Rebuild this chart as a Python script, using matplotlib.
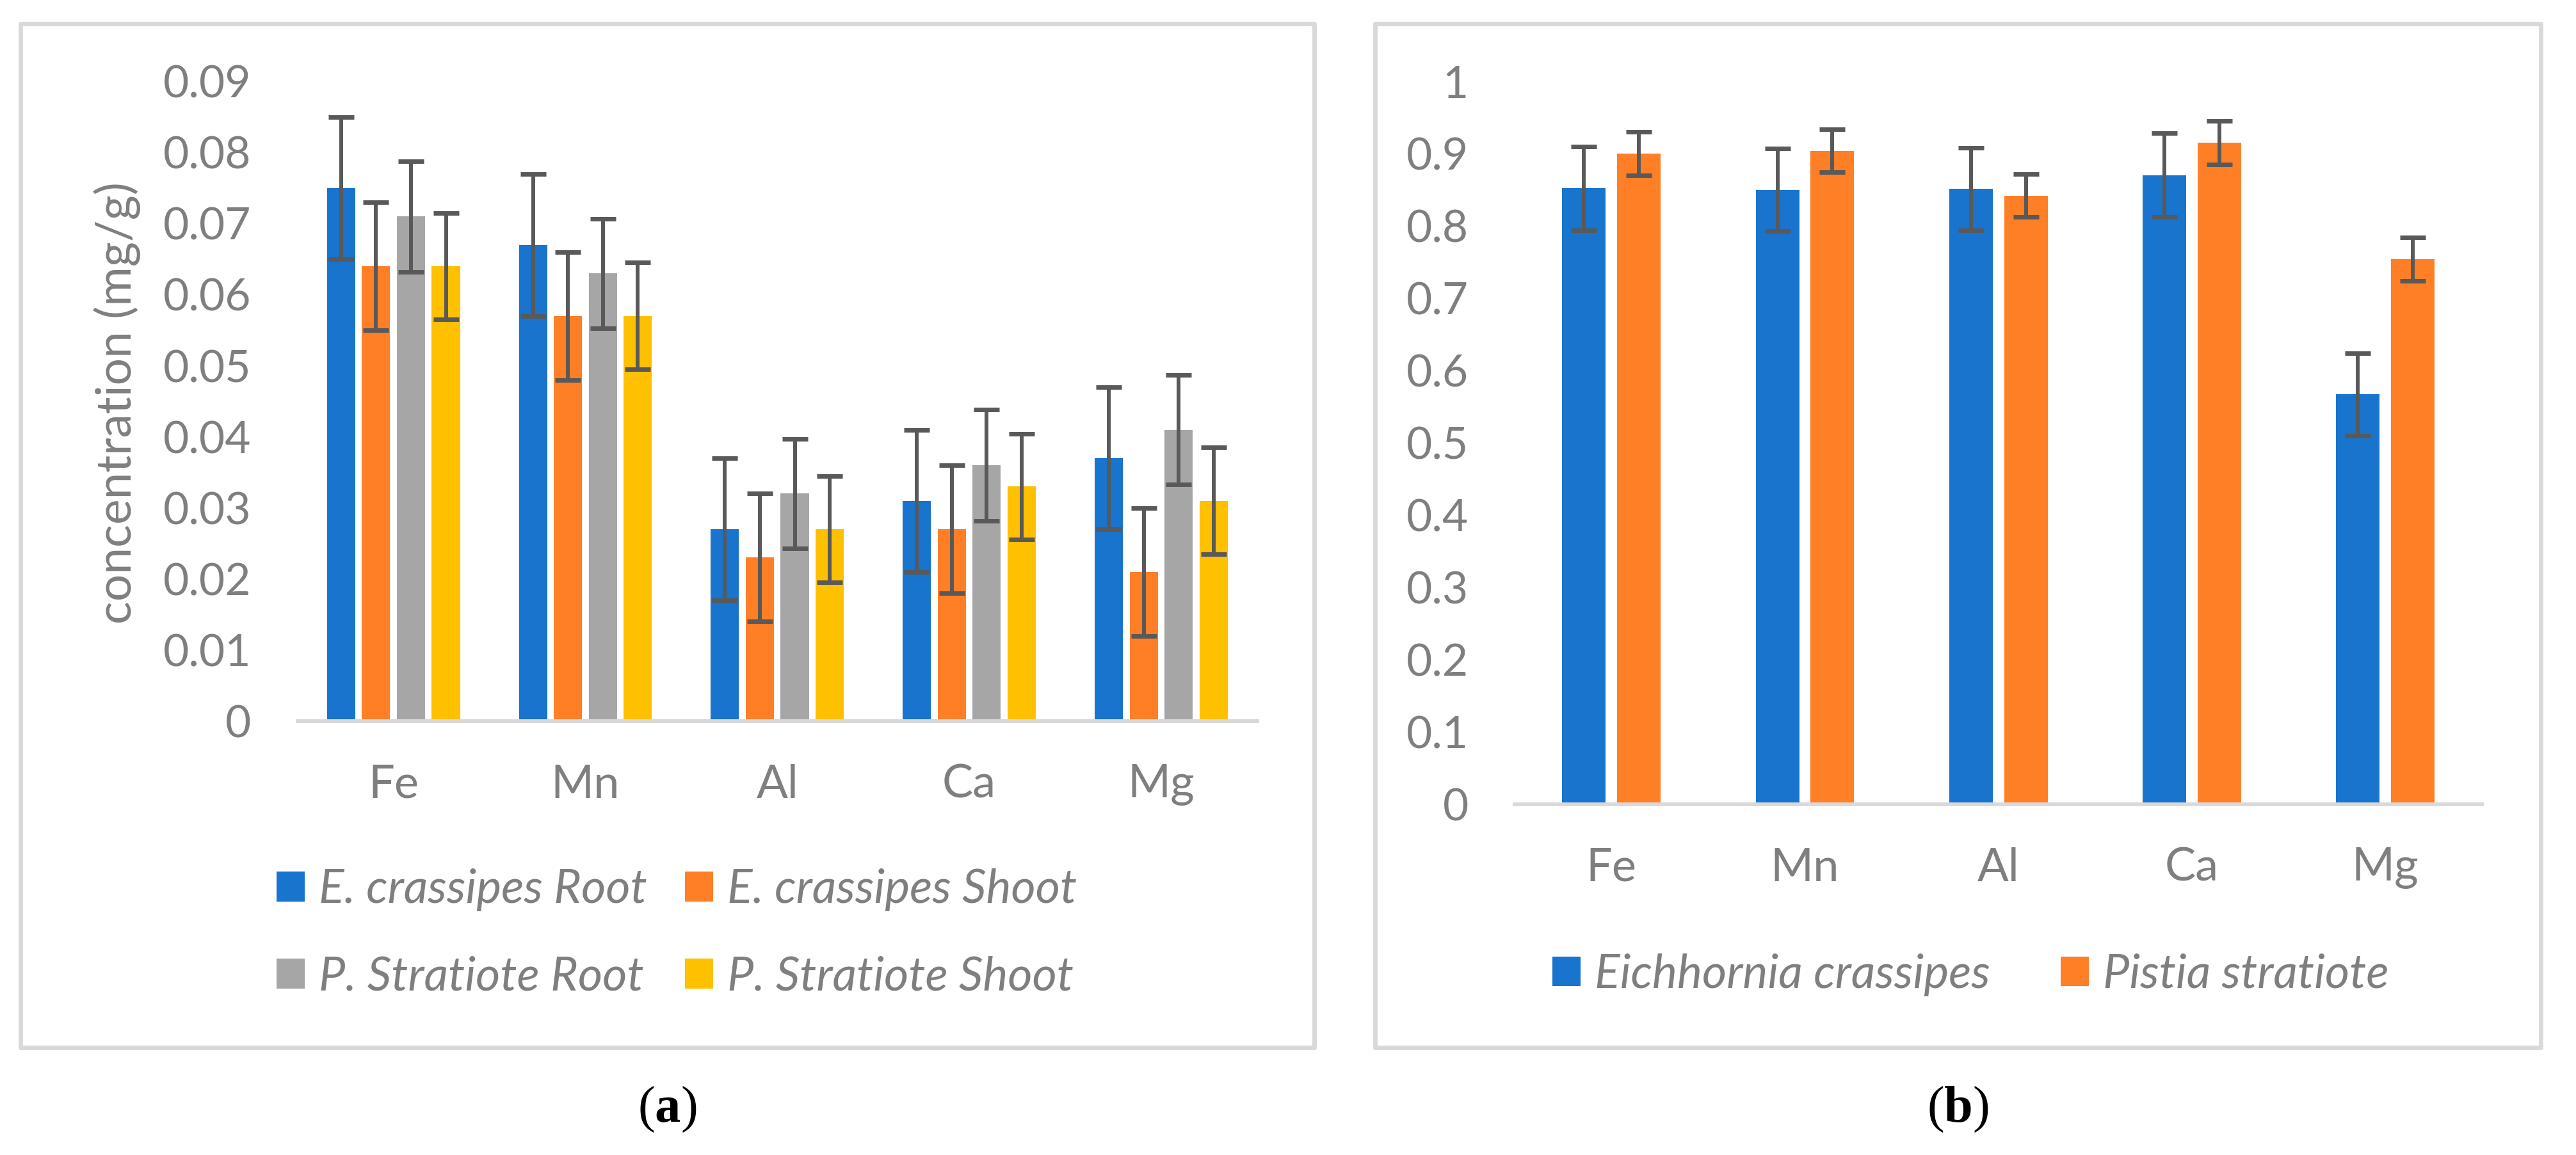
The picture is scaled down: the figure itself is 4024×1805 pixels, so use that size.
import numpy as np
import matplotlib
matplotlib.use("Agg")
from matplotlib import pyplot as plt
from matplotlib.patches import Rectangle

plt.rcParams['font.family'] = ['Lato', 'DejaVu Sans']
plt.rcParams['mathtext.fontset'] = 'custom'
plt.rcParams['mathtext.rm'] = 'Liberation Serif'
plt.rcParams['mathtext.bf'] = 'Liberation Serif:bold'

# data
elements = ['Fe', 'Mn', 'Al', 'Ca', 'Mg']

# panel (a): concentration (mg/g) per plant part
a_labels = ['E. crassipes Root', 'E. crassipes Shoot', 'P. Stratiote Root', 'P. Stratiote Shoot']
ec_root = [0.075, 0.067, 0.027, 0.031, 0.037]
ec_shoot = [0.064, 0.057, 0.023, 0.027, 0.021]
ps_root = [0.071, 0.063, 0.032, 0.036, 0.041]
ps_shoot = [0.064, 0.057, 0.027, 0.033, 0.031]
ec_root_err = [0.010, 0.010, 0.010, 0.010, 0.010]
ec_shoot_err = [0.009, 0.009, 0.009, 0.009, 0.009]
ps_root_err = [0.0078, 0.0077, 0.0077, 0.0078, 0.0077]
ps_shoot_err = [0.0075, 0.0075, 0.0075, 0.0074, 0.0075]

# panel (b)
b_labels = ['Eichhornia crassipes', 'Pistia stratiote']
eich = [0.852, 0.850, 0.851, 0.870, 0.567]
pistia = [0.900, 0.904, 0.842, 0.915, 0.754]
eich_err = [0.058, 0.057, 0.057, 0.058, 0.057]
pistia_err = [0.030, 0.030, 0.030, 0.030, 0.030]

a_ticks = [0, 0.01, 0.02, 0.03, 0.04, 0.05, 0.06, 0.07, 0.08, 0.09]
b_ticks = [0, 0.1, 0.2, 0.3, 0.4, 0.5, 0.6, 0.7, 0.8, 0.9, 1]

BLUE = '#1874CD'
ORANGE = '#FF7F27'
GRAY = '#A6A6A6'
YELLOW = '#FFC000'
TXT = '#7F7F7F'
LINE = '#D9D9D9'
ERR = '#595959'
FS_TICK = 50
FS_CAT = 52
FS_LEG = 53
FS_LAB = 54

fig = plt.figure(figsize=(40.24, 18.05), dpi=100)

# panel frames
for x0, x1 in [(0.00795, 0.5102), (0.5338, 0.9863)]:
    fig.patches.append(Rectangle((x0, 0.0928), x1 - x0, 0.9795 - 0.0928,
                                 transform=fig.transFigure, fill=False,
                                 edgecolor=LINE, linewidth=5, joinstyle='round'))


def style_axes(ax, ticks, top):
    ax.set_xlim(-0.5, 4.5)
    ax.set_ylim(0, top)
    ax.set_yticks(ticks)
    ax.set_yticklabels([f'{t:g}' for t in ticks])
    ax.set_xticks(range(len(elements)))
    ax.set_xticklabels(elements)
    for s in ['top', 'right', 'left']:
        ax.spines[s].set_visible(False)
    ax.spines['bottom'].set_color(LINE)
    ax.spines['bottom'].set_linewidth(4.3)
    ax.tick_params(axis='both', length=0, labelcolor=TXT)
    ax.tick_params(axis='y', pad=52, labelsize=FS_TICK)
    ax.tick_params(axis='x', pad=48, labelsize=FS_CAT)
    ax.set_facecolor('none')


x = np.arange(len(elements))

# (a)
ax1 = fig.add_axes([0.1155, 0.3756, 0.3725, 0.554])
series_a = [(ec_root, ec_root_err, BLUE), (ec_shoot, ec_shoot_err, ORANGE),
            (ps_root, ps_root_err, GRAY), (ps_shoot, ps_shoot_err, YELLOW)]
step = 0.182
bars_a = []
for i, (vals, err, col) in enumerate(series_a):
    pos = x + (i - 1.5) * step
    bars_a.append(ax1.bar(pos, vals, width=0.147, color=col, label=a_labels[i], zorder=2))
    ax1.errorbar(pos, vals, yerr=err, fmt='none', ecolor=ERR, elinewidth=4.3,
                 capsize=14.4, capthick=5, zorder=3)
style_axes(ax1, a_ticks, 0.09)
# row-wise order like the original legend
order = [0, 2, 1, 3]
ax1.legend([bars_a[k] for k in order], [a_labels[k] for k in order],
           loc='center', bbox_to_anchor=(0.2627, 0.1917), bbox_transform=fig.transFigure,
           ncol=2, frameon=False, prop={'style': 'italic', 'size': FS_LEG},
           labelcolor=TXT, handlelength=0.6, handleheight=0.6,
           handletextpad=0.3, columnspacing=0.8, labelspacing=0.94)
fig.text(183 / 4024, 0.651, 'concentration (mg/g)', rotation=90, ha='center', va='center',
         fontsize=FS_LAB, color=TXT)

# (b)
ax2 = fig.add_axes([0.588, 0.3036, 0.3755, 0.626])
series_b = [(eich, eich_err, BLUE), (pistia, pistia_err, ORANGE)]
for i, (vals, err, col) in enumerate(series_b):
    pos = x + (i - 0.5) * 0.284
    ax2.bar(pos, vals, width=0.225, color=col, label=b_labels[i], zorder=2)
    ax2.errorbar(pos, vals, yerr=err, fmt='none', ecolor=ERR, elinewidth=4.3,
                 capsize=14.4, capthick=5, zorder=3)
style_axes(ax2, b_ticks, 1.0)
ax2.legend(loc='center', bbox_to_anchor=(0.765, 0.156), bbox_transform=fig.transFigure,
           ncol=2, frameon=False, prop={'style': 'italic', 'size': FS_LEG},
           labelcolor=TXT, handlelength=0.6, handleheight=0.6,
           handletextpad=0.3, columnspacing=1.5)

# sub-figure labels
fig.text(1042 / 4024, 1 - 1734 / 1805, r'($\mathbf{a}$)', ha='center', va='center',
         fontsize=58, family='Liberation Serif', color='black')
fig.text(3058 / 4024, 1 - 1734 / 1805, r'($\mathbf{b}$)', ha='center', va='center',
         fontsize=58, family='Liberation Serif', color='black')

fig.savefig('out.png', dpi=100)
